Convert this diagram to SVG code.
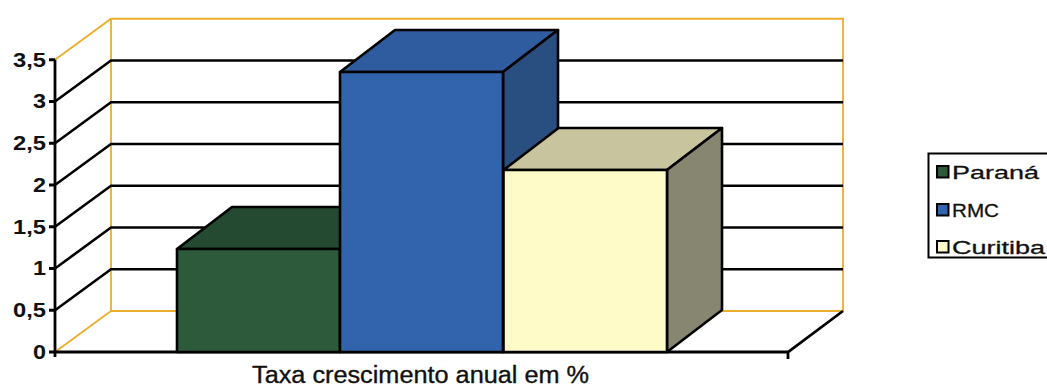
<svg xmlns="http://www.w3.org/2000/svg" width="1047" height="388" viewBox="0 0 1047 388">
<style>
.wall{stroke:#EBAE2C;stroke-width:1.8;fill:none}
.grid{stroke:#000;stroke-width:2.6;fill:none}
.ax{stroke:#000;stroke-width:2.8;fill:none}
.bar{stroke:#000;stroke-width:2.6;stroke-linejoin:round}
.lbl{font-family:"Liberation Sans",Arial,sans-serif;font-weight:bold;font-size:21px;fill:#111;text-anchor:end}
.leg{font-family:"Liberation Sans",Arial,sans-serif;font-size:19px;fill:#111;stroke:#111;stroke-width:0.3}
.title{font-family:"Liberation Sans",Arial,sans-serif;font-size:23px;fill:#111;stroke:#111;stroke-width:0.35}
.mk{stroke:#000;stroke-width:2}
</style>
<rect width="1047" height="388" fill="#fff"/>
<g id="walls">
<path class="wall" d="M55,59.75 L111,18.75 L843,18.75 L843,311 L111,311 L111,18.75 M55,352 L111,311"/>
</g>
<g id="connectors">
<path class="grid" d="M55,310.25 L111,269.25 L843,269.25 M55,268.5 L111,227.5 L843,227.5 M55,226.75 L111,185.75 L843,185.75 M55,185 L111,144 L843,144 M55,143.25 L111,102.25 L843,102.25 M55,101.5 L111,60.5 L843,60.5"/>
<path class="ax" d="M55,59.75 L55,357 M49,59.75 L55,59.75 M49,101.5 L55,101.5 M49,143.25 L55,143.25 M49,185 L55,185 M49,226.75 L55,226.75 M49,268.5 L55,268.5 M49,310.25 L55,310.25 M49,352 L55,352 M55,352 L788,352 L843,311 M788,352 L788,359"/>
</g>
<g id="axis-labels">
<text class="lbl" x="46" y="66.5" textLength="33" lengthAdjust="spacingAndGlyphs">3,5</text>
<text class="lbl" x="46" y="108" textLength="13" lengthAdjust="spacingAndGlyphs">3</text>
<text class="lbl" x="46" y="150" textLength="33" lengthAdjust="spacingAndGlyphs">2,5</text>
<text class="lbl" x="46" y="191.5" textLength="13" lengthAdjust="spacingAndGlyphs">2</text>
<text class="lbl" x="46" y="233.5" textLength="33" lengthAdjust="spacingAndGlyphs">1,5</text>
<text class="lbl" x="46" y="275" textLength="13" lengthAdjust="spacingAndGlyphs">1</text>
<text class="lbl" x="46" y="317" textLength="33" lengthAdjust="spacingAndGlyphs">0,5</text>
<text class="lbl" x="46" y="358.5" textLength="13" lengthAdjust="spacingAndGlyphs">0</text>
</g>
<g id="bar-parana">
<polygon class="bar" fill="#244A31" points="340,249 395,207 395,310 340,352"/>
<polygon class="bar" fill="#244A31" points="177,249 232,207 395,207 340,249"/>
<rect class="bar" fill="#2C5A3B" x="177" y="249" width="163" height="103"/>
</g>
<g id="bar-rmc">
<polygon class="bar" fill="#2F5C9E" points="340,72 395,30 558,30 503,72"/>
<polygon class="bar" fill="#294F80" points="503,72 558,30 558,310 503,352"/>
<rect class="bar" fill="#3263AD" x="340" y="72" width="163" height="280"/>
</g>
<g id="bar-curitiba">
<polygon class="bar" fill="#C8C59E" points="503.5,170 558.5,128 722,128 667,170"/>
<polygon class="bar" fill="#878670" points="667,170 722,128 722,310 667,352"/>
<rect class="bar" fill="#FEFBC8" x="503.5" y="170" width="163.5" height="182"/>
</g>
<g id="legend">
<rect x="928.5" y="153.5" width="125" height="104" fill="#fff" stroke="#000" stroke-width="2"/>
<rect class="mk" x="937" y="166" width="11.5" height="11.5" fill="#2C5A3B"/>
<text class="leg" x="952" y="179" textLength="87" lengthAdjust="spacingAndGlyphs">Paraná</text>
<rect class="mk" x="937" y="204" width="11.5" height="11.5" fill="#3263AD"/>
<text class="leg" x="952" y="217" textLength="47" lengthAdjust="spacingAndGlyphs">RMC</text>
<rect class="mk" x="937" y="241" width="11.5" height="11.5" fill="#FEFBC8"/>
<text class="leg" x="952" y="254" textLength="93" lengthAdjust="spacingAndGlyphs">Curitiba</text>
</g>
<text class="title" x="252" y="383" textLength="337" lengthAdjust="spacingAndGlyphs">Taxa crescimento anual em %</text>
</svg>
